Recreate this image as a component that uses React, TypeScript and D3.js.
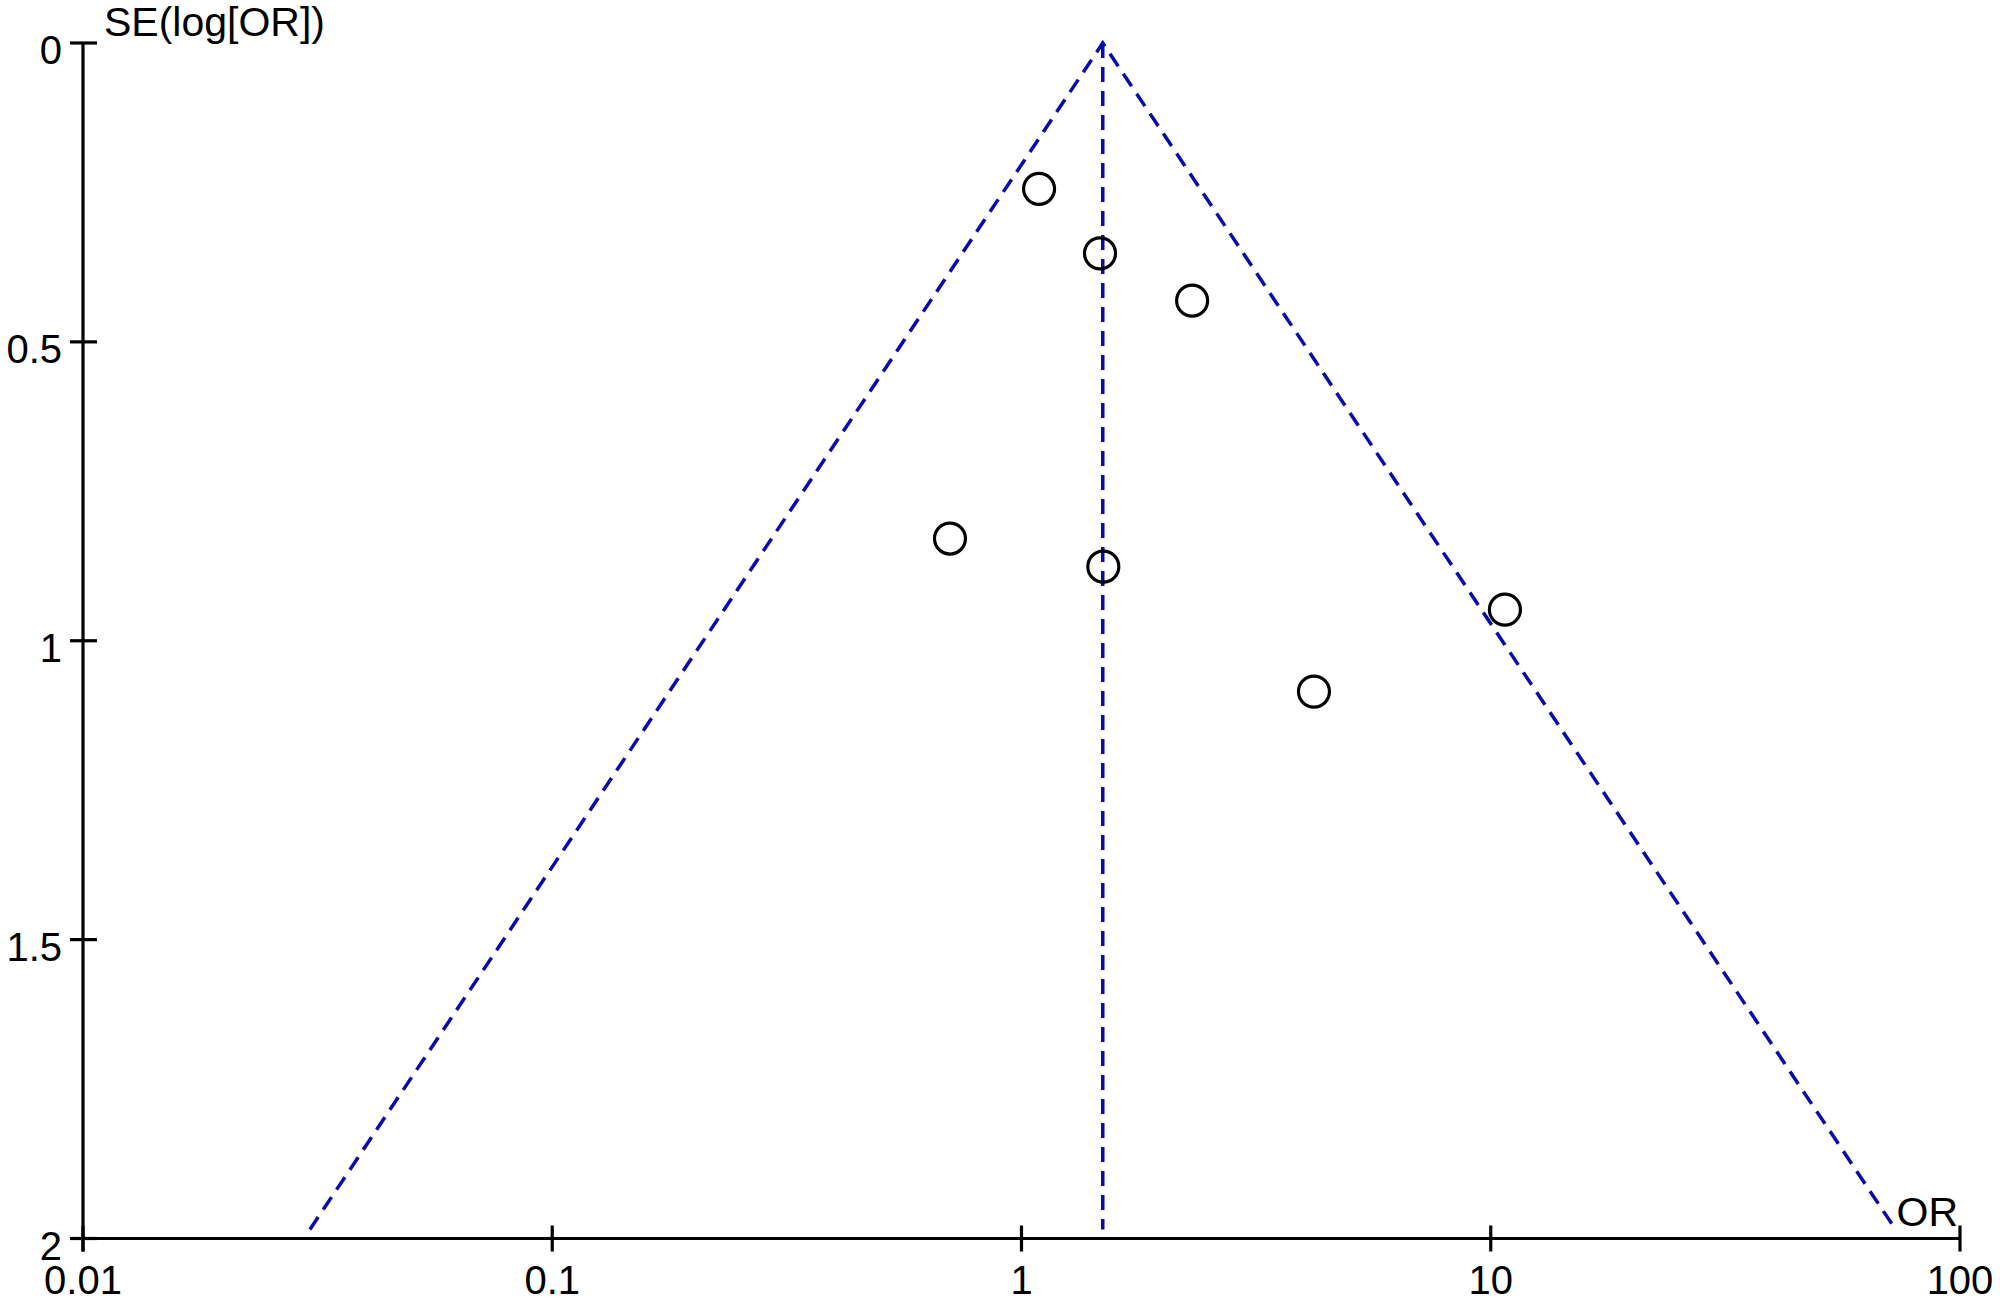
import React from "react";
import * as d3 from "d3";

const studyOR: number[] = [1.09, 1.47, 2.31, 0.704, 1.494, 4.2, 10.72];
const studySE: number[] = [0.244, 0.352, 0.431, 0.829, 0.876, 1.085, 0.948];
const pooledOR = 1.49;
const xTicks: number[] = [0.01, 0.1, 1, 10, 100];
const xTickLabels: string[] = ["0.01", "0.1", "1", "10", "100"];
const yTicks: number[] = [0, 0.5, 1, 1.5, 2];
const yTickLabels: string[] = ["0", "0.5", "1", "1.5", "2"];
const maxSE = 2;

export default function App() {
  const W = 2000, H = 1303;
  const left = 83, right = 1960, top = 43, bottom = 1238.5;
  const x = d3.scaleLog().domain([0.01, 100]).range([left, right]);
  const y = d3.scaleLinear().domain([0, maxSE]).range([top, bottom]);
  const blue = "#0a0aa8";
  const font = "'Liberation Sans', Arial, sans-serif";
  const lo = (se: number) => Math.exp(Math.log(pooledOR) - 1.96 * se);
  const hi = (se: number) => Math.exp(Math.log(pooledOR) + 1.96 * se);
  const seEnd = 1.985;
  const line = d3.line<[number, number]>().x((d) => x(d[0])).y((d) => y(d[1]));
  const dash = "15 9";
  return (
    <svg width={W} height={H} style={{ position: "absolute", left: 0, top: 0, background: "#fff" }}>
      <rect x={0} y={0} width={W} height={H} fill="#fff" />
      {/* funnel */}
      <path d={line([[lo(seEnd), seEnd], [pooledOR, 0], [hi(seEnd), seEnd]]) || ""} fill="none" stroke={blue} strokeWidth={3.5} strokeDasharray={dash} />
      <path d={line([[pooledOR, 0], [pooledOR, seEnd]]) || ""} fill="none" stroke={blue} strokeWidth={3.5} strokeDasharray={dash} />
      {/* axes */}
      <line x1={left} x2={left} y1={top} y2={bottom + 13} stroke="#000" strokeWidth={3.2} />
      <line x1={left - 13} x2={right} y1={bottom} y2={bottom} stroke="#000" strokeWidth={3.2} />
      {yTicks.map((t, i) => (
        <g key={"y" + i}>
          <line x1={left - 13} x2={left + 14} y1={y(t)} y2={y(t)} stroke="#000" strokeWidth={3.2} />
          <text x={62} y={y(t) + 21} textAnchor="end" fontFamily={font} fontSize={40} fill="#000">{yTickLabels[i]}</text>
        </g>
      ))}
      {xTicks.map((t, i) => (
        <g key={"x" + i}>
          <line x1={x(t)} x2={x(t)} y1={bottom - 13} y2={bottom + 13} stroke="#000" strokeWidth={3.2} />
          <text x={x(t)} y={1294} textAnchor="middle" fontFamily={font} fontSize={40} fill="#000">{xTickLabels[i]}</text>
        </g>
      ))}
      <text x={104} y={36} fontFamily={font} fontSize={41} fill="#000">SE(log[OR])</text>
      <text x={1958} y={1226} textAnchor="end" fontFamily={font} fontSize={41} fill="#000">OR</text>
      {/* studies */}
      {studyOR.map((o, i) => (
        <circle key={"p" + i} cx={x(o)} cy={y(studySE[i])} r={15.5} fill="none" stroke="#000" strokeWidth={3.2} />
      ))}
    </svg>
  );
}
